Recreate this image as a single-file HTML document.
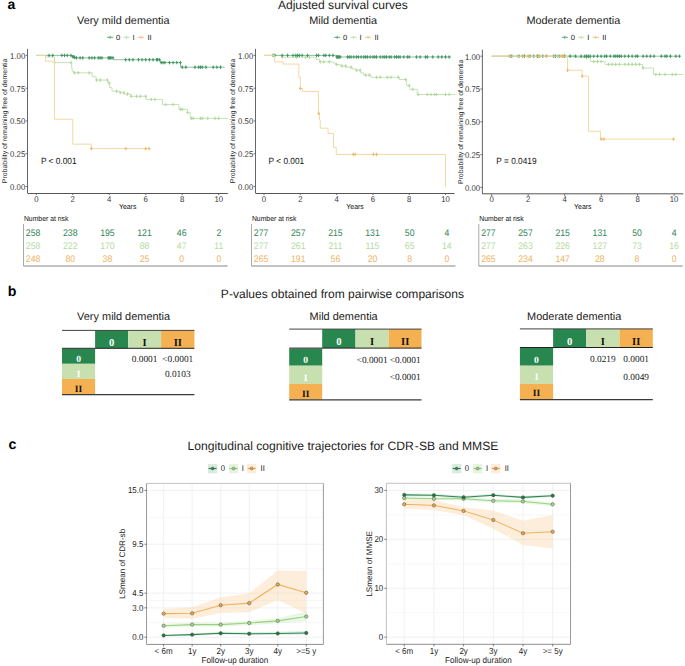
<!DOCTYPE html>
<html><head><meta charset="utf-8"><style>
html,body{margin:0;padding:0;background:#fff;width:685px;height:666px;overflow:hidden}
svg{display:block} text{text-rendering:geometricPrecision}

</style></head><body>
<svg width="685" height="666" viewBox="0 0 685 666">
<rect width="685" height="666" fill="#fff"/>
<text x="7.60" y="8.60" font-size="14.0" text-anchor="start" fill="#000" font-weight="bold" font-family="Liberation Sans" >a</text>
<text x="342.85" y="8.90" font-size="12.05" text-anchor="middle" fill="#222222" font-weight="normal" font-family="Liberation Sans" >Adjusted survival curves</text>
<text x="123.30" y="24.10" font-size="10.9" text-anchor="middle" fill="#222222" font-weight="normal" font-family="Liberation Sans" >Very mild dementia</text>
<line x1="107.00" y1="37.30" x2="113.20" y2="37.30" stroke="#3f9462" stroke-width="0.8" />
<line x1="110.10" y1="35.80" x2="110.10" y2="38.80" stroke="#3f9462" stroke-width="0.8" />
<text x="118.10" y="40.00" font-size="7.6" text-anchor="middle" fill="#222" font-weight="normal" font-family="Liberation Sans" >0</text>
<line x1="123.40" y1="37.30" x2="129.60" y2="37.30" stroke="#b3d99c" stroke-width="0.8" />
<line x1="126.50" y1="35.80" x2="126.50" y2="38.80" stroke="#b3d99c" stroke-width="0.8" />
<text x="133.60" y="40.00" font-size="7.6" text-anchor="middle" fill="#222" font-weight="normal" font-family="Liberation Sans" >I</text>
<line x1="137.90" y1="37.30" x2="144.10" y2="37.30" stroke="#ecb865" stroke-width="0.8" />
<line x1="141.00" y1="35.80" x2="141.00" y2="38.80" stroke="#ecb865" stroke-width="0.8" />
<text x="149.60" y="40.00" font-size="7.6" text-anchor="middle" fill="#222" font-weight="normal" font-family="Liberation Sans" >II</text>
<path d="M36.30,55.40 H45.42 V56.97 H54.54 V62.61 H71.69 V68.51 H72.23 V71.39 H73.33 V72.84 H92.30 V76.64 H96.13 V80.05 H107.98 V83.06 H109.62 V87.65 H112.00 V91.19 H119.66 V92.63 H124.22 V94.07 H130.97 V96.30 H145.92 V99.45 H162.52 V104.56 H178.94 V109.28 H187.33 V112.56 H190.25 V118.33 H227.82" fill="none" stroke="#c6e3b5" stroke-width="1.0"/>
<path d="M53.24,62.61h2.6M54.54,60.91v3.4" stroke="#b3d99c" stroke-width="1.0"/>
<path d="M69.66,62.61h2.6M70.96,60.91v3.4" stroke="#b3d99c" stroke-width="1.0"/>
<path d="M73.30,72.84h2.6M74.60,71.14v3.4" stroke="#b3d99c" stroke-width="1.0"/>
<path d="M76.95,72.84h2.6M78.25,71.14v3.4" stroke="#b3d99c" stroke-width="1.0"/>
<path d="M87.90,72.84h2.6M89.20,71.14v3.4" stroke="#b3d99c" stroke-width="1.0"/>
<path d="M95.19,80.05h2.6M96.49,78.35v3.4" stroke="#b3d99c" stroke-width="1.0"/>
<path d="M98.84,80.05h2.6M100.14,78.35v3.4" stroke="#b3d99c" stroke-width="1.0"/>
<path d="M106.14,80.05h2.6M107.44,78.35v3.4" stroke="#b3d99c" stroke-width="1.0"/>
<path d="M107.96,83.06h2.6M109.26,81.36v3.4" stroke="#b3d99c" stroke-width="1.0"/>
<path d="M115.26,91.19h2.6M116.56,89.49v3.4" stroke="#b3d99c" stroke-width="1.0"/>
<path d="M118.90,92.63h2.6M120.20,90.93v3.4" stroke="#b3d99c" stroke-width="1.0"/>
<path d="M122.55,92.63h2.6M123.85,90.93v3.4" stroke="#b3d99c" stroke-width="1.0"/>
<path d="M126.20,94.07h2.6M127.50,92.37v3.4" stroke="#b3d99c" stroke-width="1.0"/>
<path d="M129.85,96.30h2.6M131.15,94.60v3.4" stroke="#b3d99c" stroke-width="1.0"/>
<path d="M135.32,96.30h2.6M136.62,94.60v3.4" stroke="#b3d99c" stroke-width="1.0"/>
<path d="M138.97,96.30h2.6M140.27,94.60v3.4" stroke="#b3d99c" stroke-width="1.0"/>
<path d="M144.44,96.30h2.6M145.74,94.60v3.4" stroke="#b3d99c" stroke-width="1.0"/>
<path d="M149.91,99.45h2.6M151.21,97.75v3.4" stroke="#b3d99c" stroke-width="1.0"/>
<path d="M153.56,99.45h2.6M154.86,97.75v3.4" stroke="#b3d99c" stroke-width="1.0"/>
<path d="M164.50,104.56h2.6M165.80,102.86v3.4" stroke="#b3d99c" stroke-width="1.0"/>
<path d="M171.80,104.56h2.6M173.10,102.86v3.4" stroke="#b3d99c" stroke-width="1.0"/>
<path d="M179.10,109.28h2.6M180.40,107.58v3.4" stroke="#b3d99c" stroke-width="1.0"/>
<path d="M180.92,109.28h2.6M182.22,107.58v3.4" stroke="#b3d99c" stroke-width="1.0"/>
<path d="M186.39,112.56h2.6M187.69,110.86v3.4" stroke="#b3d99c" stroke-width="1.0"/>
<path d="M190.04,118.33h2.6M191.34,116.63v3.4" stroke="#b3d99c" stroke-width="1.0"/>
<path d="M191.86,118.33h2.6M193.16,116.63v3.4" stroke="#b3d99c" stroke-width="1.0"/>
<path d="M199.16,118.33h2.6M200.46,116.63v3.4" stroke="#b3d99c" stroke-width="1.0"/>
<path d="M200.98,118.33h2.6M202.28,116.63v3.4" stroke="#b3d99c" stroke-width="1.0"/>
<path d="M206.46,118.33h2.6M207.76,116.63v3.4" stroke="#b3d99c" stroke-width="1.0"/>
<path d="M213.75,118.33h2.6M215.05,116.63v3.4" stroke="#b3d99c" stroke-width="1.0"/>
<path d="M217.40,118.33h2.6M218.70,116.63v3.4" stroke="#b3d99c" stroke-width="1.0"/>
<path d="M36.30,55.40 H71.69 V56.06 H72.78 V56.71 H73.87 V57.37 H75.15 V57.89 H113.64 V59.73 H160.33 V62.61 H180.58 V67.20 H224.72" fill="none" stroke="#8fc3a0" stroke-width="1.0"/>
<path d="M47.77,55.40h2.6M49.07,53.70v3.4" stroke="#3f9462" stroke-width="1.0"/>
<path d="M51.42,55.40h2.6M52.72,53.70v3.4" stroke="#3f9462" stroke-width="1.0"/>
<path d="M60.54,55.40h2.6M61.84,53.70v3.4" stroke="#3f9462" stroke-width="1.0"/>
<path d="M63.27,55.40h2.6M64.57,53.70v3.4" stroke="#3f9462" stroke-width="1.0"/>
<path d="M66.01,55.40h2.6M67.31,53.70v3.4" stroke="#3f9462" stroke-width="1.0"/>
<path d="M69.66,55.40h2.6M70.96,53.70v3.4" stroke="#3f9462" stroke-width="1.0"/>
<path d="M71.48,56.71h2.6M72.78,55.01v3.4" stroke="#3f9462" stroke-width="1.0"/>
<path d="M72.39,56.71h2.6M73.69,55.01v3.4" stroke="#3f9462" stroke-width="1.0"/>
<path d="M73.30,57.37h2.6M74.60,55.67v3.4" stroke="#3f9462" stroke-width="1.0"/>
<path d="M75.13,57.89h2.6M76.43,56.19v3.4" stroke="#3f9462" stroke-width="1.0"/>
<path d="M78.78,57.89h2.6M80.08,56.19v3.4" stroke="#3f9462" stroke-width="1.0"/>
<path d="M81.51,57.89h2.6M82.81,56.19v3.4" stroke="#3f9462" stroke-width="1.0"/>
<path d="M87.90,57.89h2.6M89.20,56.19v3.4" stroke="#3f9462" stroke-width="1.0"/>
<path d="M90.63,57.89h2.6M91.93,56.19v3.4" stroke="#3f9462" stroke-width="1.0"/>
<path d="M93.37,57.89h2.6M94.67,56.19v3.4" stroke="#3f9462" stroke-width="1.0"/>
<path d="M97.02,57.89h2.6M98.32,56.19v3.4" stroke="#3f9462" stroke-width="1.0"/>
<path d="M98.84,57.89h2.6M100.14,56.19v3.4" stroke="#3f9462" stroke-width="1.0"/>
<path d="M100.66,57.89h2.6M101.96,56.19v3.4" stroke="#3f9462" stroke-width="1.0"/>
<path d="M107.05,57.89h2.6M108.35,56.19v3.4" stroke="#3f9462" stroke-width="1.0"/>
<path d="M107.96,57.89h2.6M109.26,56.19v3.4" stroke="#3f9462" stroke-width="1.0"/>
<path d="M108.87,57.89h2.6M110.17,56.19v3.4" stroke="#3f9462" stroke-width="1.0"/>
<path d="M109.78,57.89h2.6M111.08,56.19v3.4" stroke="#3f9462" stroke-width="1.0"/>
<path d="M111.61,57.89h2.6M112.91,56.19v3.4" stroke="#3f9462" stroke-width="1.0"/>
<path d="M124.38,59.73h2.6M125.68,58.03v3.4" stroke="#3f9462" stroke-width="1.0"/>
<path d="M128.02,59.73h2.6M129.32,58.03v3.4" stroke="#3f9462" stroke-width="1.0"/>
<path d="M131.67,59.73h2.6M132.97,58.03v3.4" stroke="#3f9462" stroke-width="1.0"/>
<path d="M137.14,59.73h2.6M138.44,58.03v3.4" stroke="#3f9462" stroke-width="1.0"/>
<path d="M140.79,59.73h2.6M142.09,58.03v3.4" stroke="#3f9462" stroke-width="1.0"/>
<path d="M144.44,59.73h2.6M145.74,58.03v3.4" stroke="#3f9462" stroke-width="1.0"/>
<path d="M148.09,59.73h2.6M149.39,58.03v3.4" stroke="#3f9462" stroke-width="1.0"/>
<path d="M151.74,59.73h2.6M153.04,58.03v3.4" stroke="#3f9462" stroke-width="1.0"/>
<path d="M155.38,59.73h2.6M156.68,58.03v3.4" stroke="#3f9462" stroke-width="1.0"/>
<path d="M156.30,59.73h2.6M157.60,58.03v3.4" stroke="#3f9462" stroke-width="1.0"/>
<path d="M158.12,59.73h2.6M159.42,58.03v3.4" stroke="#3f9462" stroke-width="1.0"/>
<path d="M159.94,62.61h2.6M161.24,60.91v3.4" stroke="#3f9462" stroke-width="1.0"/>
<path d="M161.77,62.61h2.6M163.07,60.91v3.4" stroke="#3f9462" stroke-width="1.0"/>
<path d="M163.59,62.61h2.6M164.89,60.91v3.4" stroke="#3f9462" stroke-width="1.0"/>
<path d="M168.15,62.61h2.6M169.45,60.91v3.4" stroke="#3f9462" stroke-width="1.0"/>
<path d="M171.80,62.61h2.6M173.10,60.91v3.4" stroke="#3f9462" stroke-width="1.0"/>
<path d="M175.45,62.61h2.6M176.75,60.91v3.4" stroke="#3f9462" stroke-width="1.0"/>
<path d="M179.10,62.61h2.6M180.40,60.91v3.4" stroke="#3f9462" stroke-width="1.0"/>
<path d="M180.92,67.20h2.6M182.22,65.50v3.4" stroke="#3f9462" stroke-width="1.0"/>
<path d="M184.57,67.20h2.6M185.87,65.50v3.4" stroke="#3f9462" stroke-width="1.0"/>
<path d="M193.69,67.20h2.6M194.99,65.50v3.4" stroke="#3f9462" stroke-width="1.0"/>
<path d="M197.34,67.20h2.6M198.64,65.50v3.4" stroke="#3f9462" stroke-width="1.0"/>
<path d="M199.16,67.20h2.6M200.46,65.50v3.4" stroke="#3f9462" stroke-width="1.0"/>
<path d="M200.98,67.20h2.6M202.28,65.50v3.4" stroke="#3f9462" stroke-width="1.0"/>
<path d="M204.63,67.20h2.6M205.93,65.50v3.4" stroke="#3f9462" stroke-width="1.0"/>
<path d="M211.93,67.20h2.6M213.23,65.50v3.4" stroke="#3f9462" stroke-width="1.0"/>
<path d="M215.58,67.20h2.6M216.88,65.50v3.4" stroke="#3f9462" stroke-width="1.0"/>
<path d="M219.22,67.20h2.6M220.52,65.50v3.4" stroke="#3f9462" stroke-width="1.0"/>
<path d="M36.30,55.40 H45.42 V61.17 H54.54 V119.25 H72.78 V144.15 H91.38 V148.61 H149.94" fill="none" stroke="#f2d9a4" stroke-width="1.0"/>
<path d="M90.08,148.61h2.6M91.38,146.91v3.4" stroke="#ecb865" stroke-width="1.0"/>
<path d="M124.56,148.61h2.6M125.86,146.91v3.4" stroke="#ecb865" stroke-width="1.0"/>
<path d="M144.44,148.61h2.6M145.74,146.91v3.4" stroke="#ecb865" stroke-width="1.0"/>
<path d="M147.91,148.61h2.6M149.21,146.91v3.4" stroke="#ecb865" stroke-width="1.0"/>
<line x1="27.50" y1="48.84" x2="27.50" y2="193.06" stroke="#555555" stroke-width="0.9" />
<line x1="27.50" y1="193.50" x2="227.82" y2="193.50" stroke="#555555" stroke-width="1.0" />
<line x1="25.50" y1="55.40" x2="27.50" y2="55.40" stroke="#555555" stroke-width="0.8" />
<text transform="translate(25.20 58.80) scale(1 1.08)" font-size="7.75" text-anchor="end" fill="#333" font-weight="normal" font-family="Liberation Sans" >1.00</text>
<line x1="25.50" y1="88.18" x2="27.50" y2="88.18" stroke="#555555" stroke-width="0.8" />
<text transform="translate(25.20 91.58) scale(1 1.08)" font-size="7.75" text-anchor="end" fill="#333" font-weight="normal" font-family="Liberation Sans" >0.75</text>
<line x1="25.50" y1="120.95" x2="27.50" y2="120.95" stroke="#555555" stroke-width="0.8" />
<text transform="translate(25.20 124.35) scale(1 1.08)" font-size="7.75" text-anchor="end" fill="#333" font-weight="normal" font-family="Liberation Sans" >0.50</text>
<line x1="25.50" y1="153.72" x2="27.50" y2="153.72" stroke="#555555" stroke-width="0.8" />
<text transform="translate(25.20 157.12) scale(1 1.08)" font-size="7.75" text-anchor="end" fill="#333" font-weight="normal" font-family="Liberation Sans" >0.25</text>
<line x1="25.50" y1="186.50" x2="27.50" y2="186.50" stroke="#555555" stroke-width="0.8" />
<text transform="translate(25.20 189.90) scale(1 1.08)" font-size="7.75" text-anchor="end" fill="#333" font-weight="normal" font-family="Liberation Sans" >0.00</text>
<line x1="36.30" y1="193.06" x2="36.30" y2="195.06" stroke="#555555" stroke-width="0.8" />
<text transform="translate(36.30 201.56) scale(1 1.08)" font-size="7.75" text-anchor="middle" fill="#333" font-weight="normal" font-family="Liberation Sans" >0</text>
<line x1="72.78" y1="193.06" x2="72.78" y2="195.06" stroke="#555555" stroke-width="0.8" />
<text transform="translate(72.78 201.56) scale(1 1.08)" font-size="7.75" text-anchor="middle" fill="#333" font-weight="normal" font-family="Liberation Sans" >2</text>
<line x1="109.26" y1="193.06" x2="109.26" y2="195.06" stroke="#555555" stroke-width="0.8" />
<text transform="translate(109.26 201.56) scale(1 1.08)" font-size="7.75" text-anchor="middle" fill="#333" font-weight="normal" font-family="Liberation Sans" >4</text>
<line x1="145.74" y1="193.06" x2="145.74" y2="195.06" stroke="#555555" stroke-width="0.8" />
<text transform="translate(145.74 201.56) scale(1 1.08)" font-size="7.75" text-anchor="middle" fill="#333" font-weight="normal" font-family="Liberation Sans" >6</text>
<line x1="182.22" y1="193.06" x2="182.22" y2="195.06" stroke="#555555" stroke-width="0.8" />
<text transform="translate(182.22 201.56) scale(1 1.08)" font-size="7.75" text-anchor="middle" fill="#333" font-weight="normal" font-family="Liberation Sans" >8</text>
<line x1="218.70" y1="193.06" x2="218.70" y2="195.06" stroke="#555555" stroke-width="0.8" />
<text transform="translate(218.70 201.56) scale(1 1.08)" font-size="7.75" text-anchor="middle" fill="#333" font-weight="normal" font-family="Liberation Sans" >10</text>
<text transform="translate(127.66 209.40) scale(1 1.08)" font-size="6.9" text-anchor="middle" fill="#111" font-weight="normal" font-family="Liberation Sans" >Years</text>
<text x="6.60" y="120.95" font-size="6.95" text-anchor="middle" fill="#222" font-weight="normal" font-family="Liberation Sans" transform="rotate(-90 6.60 120.95)">Probability of remaining free of dementia</text>
<text transform="translate(40.90 163.70) scale(1 1.08)" font-size="8.3" text-anchor="start" fill="#111" font-weight="normal" font-family="Liberation Sans" >P &lt; 0.001</text>
<text transform="translate(23.90 220.60) scale(1 1.08)" font-size="6.85" text-anchor="start" fill="#111" font-weight="normal" font-family="Liberation Sans" >Number at risk</text>
<line x1="23.50" y1="224.00" x2="23.50" y2="266.00" stroke="#a0a0a0" stroke-width="0.9" />
<line x1="23.50" y1="266.00" x2="227.50" y2="266.00" stroke="#777" stroke-width="0.9" />
<text transform="translate(33.10 235.70) scale(1 1.1)" font-size="8.7" text-anchor="middle" fill="#2f8655" font-weight="normal" font-family="Liberation Sans" >258</text>
<text transform="translate(70.24 235.70) scale(1 1.1)" font-size="8.7" text-anchor="middle" fill="#2f8655" font-weight="normal" font-family="Liberation Sans" >238</text>
<text transform="translate(107.38 235.70) scale(1 1.1)" font-size="8.7" text-anchor="middle" fill="#2f8655" font-weight="normal" font-family="Liberation Sans" >195</text>
<text transform="translate(144.52 235.70) scale(1 1.1)" font-size="8.7" text-anchor="middle" fill="#2f8655" font-weight="normal" font-family="Liberation Sans" >121</text>
<text transform="translate(181.66 235.70) scale(1 1.1)" font-size="8.7" text-anchor="middle" fill="#2f8655" font-weight="normal" font-family="Liberation Sans" >46</text>
<text transform="translate(218.80 235.70) scale(1 1.1)" font-size="8.7" text-anchor="middle" fill="#2f8655" font-weight="normal" font-family="Liberation Sans" >2</text>
<text transform="translate(33.10 248.90) scale(1 1.1)" font-size="8.7" text-anchor="middle" fill="#b5da9f" font-weight="normal" font-family="Liberation Sans" >258</text>
<text transform="translate(70.24 248.90) scale(1 1.1)" font-size="8.7" text-anchor="middle" fill="#b5da9f" font-weight="normal" font-family="Liberation Sans" >222</text>
<text transform="translate(107.38 248.90) scale(1 1.1)" font-size="8.7" text-anchor="middle" fill="#b5da9f" font-weight="normal" font-family="Liberation Sans" >170</text>
<text transform="translate(144.52 248.90) scale(1 1.1)" font-size="8.7" text-anchor="middle" fill="#b5da9f" font-weight="normal" font-family="Liberation Sans" >88</text>
<text transform="translate(181.66 248.90) scale(1 1.1)" font-size="8.7" text-anchor="middle" fill="#b5da9f" font-weight="normal" font-family="Liberation Sans" >47</text>
<text transform="translate(218.80 248.90) scale(1 1.1)" font-size="8.7" text-anchor="middle" fill="#b5da9f" font-weight="normal" font-family="Liberation Sans" >11</text>
<text transform="translate(33.10 262.10) scale(1 1.1)" font-size="8.7" text-anchor="middle" fill="#efb362" font-weight="normal" font-family="Liberation Sans" >248</text>
<text transform="translate(70.24 262.10) scale(1 1.1)" font-size="8.7" text-anchor="middle" fill="#efb362" font-weight="normal" font-family="Liberation Sans" >80</text>
<text transform="translate(107.38 262.10) scale(1 1.1)" font-size="8.7" text-anchor="middle" fill="#efb362" font-weight="normal" font-family="Liberation Sans" >38</text>
<text transform="translate(144.52 262.10) scale(1 1.1)" font-size="8.7" text-anchor="middle" fill="#efb362" font-weight="normal" font-family="Liberation Sans" >25</text>
<text transform="translate(181.66 262.10) scale(1 1.1)" font-size="8.7" text-anchor="middle" fill="#efb362" font-weight="normal" font-family="Liberation Sans" >0</text>
<text transform="translate(218.80 262.10) scale(1 1.1)" font-size="8.7" text-anchor="middle" fill="#efb362" font-weight="normal" font-family="Liberation Sans" >0</text>
<text x="343.10" y="24.10" font-size="10.9" text-anchor="middle" fill="#222222" font-weight="normal" font-family="Liberation Sans" >Mild dementia</text>
<line x1="334.00" y1="37.30" x2="340.20" y2="37.30" stroke="#3f9462" stroke-width="0.8" />
<line x1="337.10" y1="35.80" x2="337.10" y2="38.80" stroke="#3f9462" stroke-width="0.8" />
<text x="345.10" y="40.00" font-size="7.6" text-anchor="middle" fill="#222" font-weight="normal" font-family="Liberation Sans" >0</text>
<line x1="350.40" y1="37.30" x2="356.60" y2="37.30" stroke="#b3d99c" stroke-width="0.8" />
<line x1="353.50" y1="35.80" x2="353.50" y2="38.80" stroke="#b3d99c" stroke-width="0.8" />
<text x="360.60" y="40.00" font-size="7.6" text-anchor="middle" fill="#222" font-weight="normal" font-family="Liberation Sans" >I</text>
<line x1="364.90" y1="37.30" x2="371.10" y2="37.30" stroke="#ecb865" stroke-width="0.8" />
<line x1="368.00" y1="35.80" x2="368.00" y2="38.80" stroke="#ecb865" stroke-width="0.8" />
<text x="376.60" y="40.00" font-size="7.6" text-anchor="middle" fill="#222" font-weight="normal" font-family="Liberation Sans" >II</text>
<path d="M264.00,55.40 H281.97 V57.24 H316.27 V59.46 H319.36 V61.82 H332.79 V63.00 H335.69 V64.45 H340.23 V66.02 H346.22 V67.20 H352.21 V69.03 H356.02 V70.21 H360.38 V72.84 H363.46 V75.07 H370.90 V77.29 H399.22 V79.52 H406.66 V85.55 H409.74 V89.35 H417.19 V94.47 H455.30" fill="none" stroke="#c6e3b5" stroke-width="1.0"/>
<path d="M280.85,57.24h2.6M282.15,55.54v3.4" stroke="#b3d99c" stroke-width="1.0"/>
<path d="M295.37,57.24h2.6M296.67,55.54v3.4" stroke="#b3d99c" stroke-width="1.0"/>
<path d="M304.44,57.24h2.6M305.75,55.54v3.4" stroke="#b3d99c" stroke-width="1.0"/>
<path d="M308.07,57.24h2.6M309.38,55.54v3.4" stroke="#b3d99c" stroke-width="1.0"/>
<path d="M318.96,61.82h2.6M320.26,60.12v3.4" stroke="#b3d99c" stroke-width="1.0"/>
<path d="M322.59,61.82h2.6M323.89,60.12v3.4" stroke="#b3d99c" stroke-width="1.0"/>
<path d="M328.04,61.82h2.6M329.34,60.12v3.4" stroke="#b3d99c" stroke-width="1.0"/>
<path d="M335.30,64.45h2.6M336.60,62.75v3.4" stroke="#b3d99c" stroke-width="1.0"/>
<path d="M340.74,66.02h2.6M342.04,64.32v3.4" stroke="#b3d99c" stroke-width="1.0"/>
<path d="M344.38,66.02h2.6M345.68,64.32v3.4" stroke="#b3d99c" stroke-width="1.0"/>
<path d="M349.82,67.20h2.6M351.12,65.50v3.4" stroke="#b3d99c" stroke-width="1.0"/>
<path d="M355.26,70.21h2.6M356.56,68.51v3.4" stroke="#b3d99c" stroke-width="1.0"/>
<path d="M358.89,70.21h2.6M360.19,68.51v3.4" stroke="#b3d99c" stroke-width="1.0"/>
<path d="M364.34,75.07h2.6M365.64,73.37v3.4" stroke="#b3d99c" stroke-width="1.0"/>
<path d="M367.97,75.07h2.6M369.27,73.37v3.4" stroke="#b3d99c" stroke-width="1.0"/>
<path d="M375.23,77.29h2.6M376.53,75.59v3.4" stroke="#b3d99c" stroke-width="1.0"/>
<path d="M378.86,77.29h2.6M380.16,75.59v3.4" stroke="#b3d99c" stroke-width="1.0"/>
<path d="M386.12,77.29h2.6M387.42,75.59v3.4" stroke="#b3d99c" stroke-width="1.0"/>
<path d="M389.75,77.29h2.6M391.05,75.59v3.4" stroke="#b3d99c" stroke-width="1.0"/>
<path d="M397.01,77.29h2.6M398.31,75.59v3.4" stroke="#b3d99c" stroke-width="1.0"/>
<path d="M404.27,79.52h2.6M405.57,77.82v3.4" stroke="#b3d99c" stroke-width="1.0"/>
<path d="M407.90,85.55h2.6M409.20,83.85v3.4" stroke="#b3d99c" stroke-width="1.0"/>
<path d="M411.53,89.35h2.6M412.83,87.65v3.4" stroke="#b3d99c" stroke-width="1.0"/>
<path d="M416.97,94.47h2.6M418.27,92.77v3.4" stroke="#b3d99c" stroke-width="1.0"/>
<path d="M426.05,94.47h2.6M427.35,92.77v3.4" stroke="#b3d99c" stroke-width="1.0"/>
<path d="M429.68,94.47h2.6M430.98,92.77v3.4" stroke="#b3d99c" stroke-width="1.0"/>
<path d="M433.31,94.47h2.6M434.61,92.77v3.4" stroke="#b3d99c" stroke-width="1.0"/>
<path d="M435.12,94.47h2.6M436.42,92.77v3.4" stroke="#b3d99c" stroke-width="1.0"/>
<path d="M444.20,94.47h2.6M445.50,92.77v3.4" stroke="#b3d99c" stroke-width="1.0"/>
<path d="M447.83,94.47h2.6M449.13,92.77v3.4" stroke="#b3d99c" stroke-width="1.0"/>
<path d="M264.00,55.40 H336.42 V56.97 H450.94" fill="none" stroke="#8fc3a0" stroke-width="1.0"/>
<path d="M271.77,55.40h2.6M273.07,53.70v3.4" stroke="#3f9462" stroke-width="1.0"/>
<path d="M273.59,55.40h2.6M274.89,53.70v3.4" stroke="#3f9462" stroke-width="1.0"/>
<path d="M280.85,55.40h2.6M282.15,53.70v3.4" stroke="#3f9462" stroke-width="1.0"/>
<path d="M286.30,55.40h2.6M287.60,53.70v3.4" stroke="#3f9462" stroke-width="1.0"/>
<path d="M291.74,55.40h2.6M293.04,53.70v3.4" stroke="#3f9462" stroke-width="1.0"/>
<path d="M294.46,55.40h2.6M295.76,53.70v3.4" stroke="#3f9462" stroke-width="1.0"/>
<path d="M296.28,55.40h2.6M297.58,53.70v3.4" stroke="#3f9462" stroke-width="1.0"/>
<path d="M298.09,55.40h2.6M299.39,53.70v3.4" stroke="#3f9462" stroke-width="1.0"/>
<path d="M300.81,55.40h2.6M302.12,53.70v3.4" stroke="#3f9462" stroke-width="1.0"/>
<path d="M306.26,55.40h2.6M307.56,53.70v3.4" stroke="#3f9462" stroke-width="1.0"/>
<path d="M315.33,55.40h2.6M316.63,53.70v3.4" stroke="#3f9462" stroke-width="1.0"/>
<path d="M317.15,55.40h2.6M318.45,53.70v3.4" stroke="#3f9462" stroke-width="1.0"/>
<path d="M322.59,55.40h2.6M323.89,53.70v3.4" stroke="#3f9462" stroke-width="1.0"/>
<path d="M324.41,55.40h2.6M325.71,53.70v3.4" stroke="#3f9462" stroke-width="1.0"/>
<path d="M328.04,55.40h2.6M329.34,53.70v3.4" stroke="#3f9462" stroke-width="1.0"/>
<path d="M331.67,55.40h2.6M332.97,53.70v3.4" stroke="#3f9462" stroke-width="1.0"/>
<path d="M335.30,56.97h2.6M336.60,55.27v3.4" stroke="#3f9462" stroke-width="1.0"/>
<path d="M336.21,56.97h2.6M337.51,55.27v3.4" stroke="#3f9462" stroke-width="1.0"/>
<path d="M337.11,56.97h2.6M338.41,55.27v3.4" stroke="#3f9462" stroke-width="1.0"/>
<path d="M338.02,56.97h2.6M339.32,55.27v3.4" stroke="#3f9462" stroke-width="1.0"/>
<path d="M338.93,56.97h2.6M340.23,55.27v3.4" stroke="#3f9462" stroke-width="1.0"/>
<path d="M346.19,56.97h2.6M347.49,55.27v3.4" stroke="#3f9462" stroke-width="1.0"/>
<path d="M348.00,56.97h2.6M349.31,55.27v3.4" stroke="#3f9462" stroke-width="1.0"/>
<path d="M349.82,56.97h2.6M351.12,55.27v3.4" stroke="#3f9462" stroke-width="1.0"/>
<path d="M352.54,56.97h2.6M353.84,55.27v3.4" stroke="#3f9462" stroke-width="1.0"/>
<path d="M355.26,56.97h2.6M356.56,55.27v3.4" stroke="#3f9462" stroke-width="1.0"/>
<path d="M357.08,56.97h2.6M358.38,55.27v3.4" stroke="#3f9462" stroke-width="1.0"/>
<path d="M359.80,56.97h2.6M361.10,55.27v3.4" stroke="#3f9462" stroke-width="1.0"/>
<path d="M362.52,56.97h2.6M363.82,55.27v3.4" stroke="#3f9462" stroke-width="1.0"/>
<path d="M364.34,56.97h2.6M365.64,55.27v3.4" stroke="#3f9462" stroke-width="1.0"/>
<path d="M366.15,56.97h2.6M367.45,55.27v3.4" stroke="#3f9462" stroke-width="1.0"/>
<path d="M368.88,56.97h2.6M370.18,55.27v3.4" stroke="#3f9462" stroke-width="1.0"/>
<path d="M371.60,56.97h2.6M372.90,55.27v3.4" stroke="#3f9462" stroke-width="1.0"/>
<path d="M373.41,56.97h2.6M374.71,55.27v3.4" stroke="#3f9462" stroke-width="1.0"/>
<path d="M375.23,56.97h2.6M376.53,55.27v3.4" stroke="#3f9462" stroke-width="1.0"/>
<path d="M378.86,56.97h2.6M380.16,55.27v3.4" stroke="#3f9462" stroke-width="1.0"/>
<path d="M381.58,56.97h2.6M382.88,55.27v3.4" stroke="#3f9462" stroke-width="1.0"/>
<path d="M383.40,56.97h2.6M384.70,55.27v3.4" stroke="#3f9462" stroke-width="1.0"/>
<path d="M385.21,56.97h2.6M386.51,55.27v3.4" stroke="#3f9462" stroke-width="1.0"/>
<path d="M387.94,56.97h2.6M389.24,55.27v3.4" stroke="#3f9462" stroke-width="1.0"/>
<path d="M389.75,56.97h2.6M391.05,55.27v3.4" stroke="#3f9462" stroke-width="1.0"/>
<path d="M393.38,56.97h2.6M394.68,55.27v3.4" stroke="#3f9462" stroke-width="1.0"/>
<path d="M395.19,56.97h2.6M396.50,55.27v3.4" stroke="#3f9462" stroke-width="1.0"/>
<path d="M397.01,56.97h2.6M398.31,55.27v3.4" stroke="#3f9462" stroke-width="1.0"/>
<path d="M398.82,56.97h2.6M400.12,55.27v3.4" stroke="#3f9462" stroke-width="1.0"/>
<path d="M402.45,56.97h2.6M403.75,55.27v3.4" stroke="#3f9462" stroke-width="1.0"/>
<path d="M406.08,56.97h2.6M407.38,55.27v3.4" stroke="#3f9462" stroke-width="1.0"/>
<path d="M407.90,56.97h2.6M409.20,55.27v3.4" stroke="#3f9462" stroke-width="1.0"/>
<path d="M415.16,56.97h2.6M416.46,55.27v3.4" stroke="#3f9462" stroke-width="1.0"/>
<path d="M418.79,56.97h2.6M420.09,55.27v3.4" stroke="#3f9462" stroke-width="1.0"/>
<path d="M424.23,56.97h2.6M425.53,55.27v3.4" stroke="#3f9462" stroke-width="1.0"/>
<path d="M426.05,56.97h2.6M427.35,55.27v3.4" stroke="#3f9462" stroke-width="1.0"/>
<path d="M431.49,56.97h2.6M432.79,55.27v3.4" stroke="#3f9462" stroke-width="1.0"/>
<path d="M436.94,56.97h2.6M438.24,55.27v3.4" stroke="#3f9462" stroke-width="1.0"/>
<path d="M440.57,56.97h2.6M441.87,55.27v3.4" stroke="#3f9462" stroke-width="1.0"/>
<path d="M444.20,56.97h2.6M445.50,55.27v3.4" stroke="#3f9462" stroke-width="1.0"/>
<path d="M447.83,56.97h2.6M449.13,55.27v3.4" stroke="#3f9462" stroke-width="1.0"/>
<path d="M264.00,55.40 H274.71 V61.82 H283.06 V64.05 H298.85 V77.29 H300.30 V88.44 H302.48 V91.45 H318.45 V113.35 H319.36 V120.03 H320.26 V128.16 H328.07 V133.40 H333.51 V147.43 H336.24 V154.38 H445.50 V186.50 H445.50" fill="none" stroke="#f2d9a4" stroke-width="1.0"/>
<path d="M299.00,88.44h2.6M300.30,86.74v3.4" stroke="#ecb865" stroke-width="1.0"/>
<path d="M317.51,113.35h2.6M318.81,111.65v3.4" stroke="#ecb865" stroke-width="1.0"/>
<path d="M352.00,154.38h2.6M353.30,152.68v3.4" stroke="#ecb865" stroke-width="1.0"/>
<path d="M353.81,154.38h2.6M355.11,152.68v3.4" stroke="#ecb865" stroke-width="1.0"/>
<path d="M372.14,154.38h2.6M373.44,152.68v3.4" stroke="#ecb865" stroke-width="1.0"/>
<path d="M375.23,154.38h2.6M376.53,152.68v3.4" stroke="#ecb865" stroke-width="1.0"/>
<line x1="255.50" y1="48.84" x2="255.50" y2="193.06" stroke="#555555" stroke-width="0.9" />
<line x1="255.50" y1="193.50" x2="454.57" y2="193.50" stroke="#555555" stroke-width="1.0" />
<line x1="253.50" y1="55.40" x2="255.50" y2="55.40" stroke="#555555" stroke-width="0.8" />
<text transform="translate(253.20 58.80) scale(1 1.08)" font-size="7.75" text-anchor="end" fill="#333" font-weight="normal" font-family="Liberation Sans" >1.00</text>
<line x1="253.50" y1="88.18" x2="255.50" y2="88.18" stroke="#555555" stroke-width="0.8" />
<text transform="translate(253.20 91.58) scale(1 1.08)" font-size="7.75" text-anchor="end" fill="#333" font-weight="normal" font-family="Liberation Sans" >0.75</text>
<line x1="253.50" y1="120.95" x2="255.50" y2="120.95" stroke="#555555" stroke-width="0.8" />
<text transform="translate(253.20 124.35) scale(1 1.08)" font-size="7.75" text-anchor="end" fill="#333" font-weight="normal" font-family="Liberation Sans" >0.50</text>
<line x1="253.50" y1="153.72" x2="255.50" y2="153.72" stroke="#555555" stroke-width="0.8" />
<text transform="translate(253.20 157.12) scale(1 1.08)" font-size="7.75" text-anchor="end" fill="#333" font-weight="normal" font-family="Liberation Sans" >0.25</text>
<line x1="253.50" y1="186.50" x2="255.50" y2="186.50" stroke="#555555" stroke-width="0.8" />
<text transform="translate(253.20 189.90) scale(1 1.08)" font-size="7.75" text-anchor="end" fill="#333" font-weight="normal" font-family="Liberation Sans" >0.00</text>
<line x1="264.00" y1="193.06" x2="264.00" y2="195.06" stroke="#555555" stroke-width="0.8" />
<text transform="translate(264.00 201.56) scale(1 1.08)" font-size="7.75" text-anchor="middle" fill="#333" font-weight="normal" font-family="Liberation Sans" >0</text>
<line x1="300.30" y1="193.06" x2="300.30" y2="195.06" stroke="#555555" stroke-width="0.8" />
<text transform="translate(300.30 201.56) scale(1 1.08)" font-size="7.75" text-anchor="middle" fill="#333" font-weight="normal" font-family="Liberation Sans" >2</text>
<line x1="336.60" y1="193.06" x2="336.60" y2="195.06" stroke="#555555" stroke-width="0.8" />
<text transform="translate(336.60 201.56) scale(1 1.08)" font-size="7.75" text-anchor="middle" fill="#333" font-weight="normal" font-family="Liberation Sans" >4</text>
<line x1="372.90" y1="193.06" x2="372.90" y2="195.06" stroke="#555555" stroke-width="0.8" />
<text transform="translate(372.90 201.56) scale(1 1.08)" font-size="7.75" text-anchor="middle" fill="#333" font-weight="normal" font-family="Liberation Sans" >6</text>
<line x1="409.20" y1="193.06" x2="409.20" y2="195.06" stroke="#555555" stroke-width="0.8" />
<text transform="translate(409.20 201.56) scale(1 1.08)" font-size="7.75" text-anchor="middle" fill="#333" font-weight="normal" font-family="Liberation Sans" >8</text>
<line x1="445.50" y1="193.06" x2="445.50" y2="195.06" stroke="#555555" stroke-width="0.8" />
<text transform="translate(445.50 201.56) scale(1 1.08)" font-size="7.75" text-anchor="middle" fill="#333" font-weight="normal" font-family="Liberation Sans" >10</text>
<text transform="translate(355.04 209.40) scale(1 1.08)" font-size="6.9" text-anchor="middle" fill="#111" font-weight="normal" font-family="Liberation Sans" >Years</text>
<text x="235.20" y="120.95" font-size="6.95" text-anchor="middle" fill="#222" font-weight="normal" font-family="Liberation Sans" transform="rotate(-90 235.20 120.95)">Probability of remaining free of dementia</text>
<text transform="translate(268.60 163.70) scale(1 1.08)" font-size="8.3" text-anchor="start" fill="#111" font-weight="normal" font-family="Liberation Sans" >P &lt; 0.001</text>
<text transform="translate(251.90 220.60) scale(1 1.08)" font-size="6.85" text-anchor="start" fill="#111" font-weight="normal" font-family="Liberation Sans" >Number at risk</text>
<line x1="251.50" y1="224.00" x2="251.50" y2="266.00" stroke="#a0a0a0" stroke-width="0.9" />
<line x1="251.50" y1="266.00" x2="455.50" y2="266.00" stroke="#777" stroke-width="0.9" />
<text transform="translate(261.10 235.70) scale(1 1.1)" font-size="8.7" text-anchor="middle" fill="#2f8655" font-weight="normal" font-family="Liberation Sans" >277</text>
<text transform="translate(298.24 235.70) scale(1 1.1)" font-size="8.7" text-anchor="middle" fill="#2f8655" font-weight="normal" font-family="Liberation Sans" >257</text>
<text transform="translate(335.38 235.70) scale(1 1.1)" font-size="8.7" text-anchor="middle" fill="#2f8655" font-weight="normal" font-family="Liberation Sans" >215</text>
<text transform="translate(372.52 235.70) scale(1 1.1)" font-size="8.7" text-anchor="middle" fill="#2f8655" font-weight="normal" font-family="Liberation Sans" >131</text>
<text transform="translate(409.66 235.70) scale(1 1.1)" font-size="8.7" text-anchor="middle" fill="#2f8655" font-weight="normal" font-family="Liberation Sans" >50</text>
<text transform="translate(446.80 235.70) scale(1 1.1)" font-size="8.7" text-anchor="middle" fill="#2f8655" font-weight="normal" font-family="Liberation Sans" >4</text>
<text transform="translate(261.10 248.90) scale(1 1.1)" font-size="8.7" text-anchor="middle" fill="#b5da9f" font-weight="normal" font-family="Liberation Sans" >277</text>
<text transform="translate(298.24 248.90) scale(1 1.1)" font-size="8.7" text-anchor="middle" fill="#b5da9f" font-weight="normal" font-family="Liberation Sans" >261</text>
<text transform="translate(335.38 248.90) scale(1 1.1)" font-size="8.7" text-anchor="middle" fill="#b5da9f" font-weight="normal" font-family="Liberation Sans" >211</text>
<text transform="translate(372.52 248.90) scale(1 1.1)" font-size="8.7" text-anchor="middle" fill="#b5da9f" font-weight="normal" font-family="Liberation Sans" >115</text>
<text transform="translate(409.66 248.90) scale(1 1.1)" font-size="8.7" text-anchor="middle" fill="#b5da9f" font-weight="normal" font-family="Liberation Sans" >65</text>
<text transform="translate(446.80 248.90) scale(1 1.1)" font-size="8.7" text-anchor="middle" fill="#b5da9f" font-weight="normal" font-family="Liberation Sans" >14</text>
<text transform="translate(261.10 262.10) scale(1 1.1)" font-size="8.7" text-anchor="middle" fill="#efb362" font-weight="normal" font-family="Liberation Sans" >265</text>
<text transform="translate(298.24 262.10) scale(1 1.1)" font-size="8.7" text-anchor="middle" fill="#efb362" font-weight="normal" font-family="Liberation Sans" >191</text>
<text transform="translate(335.38 262.10) scale(1 1.1)" font-size="8.7" text-anchor="middle" fill="#efb362" font-weight="normal" font-family="Liberation Sans" >56</text>
<text transform="translate(372.52 262.10) scale(1 1.1)" font-size="8.7" text-anchor="middle" fill="#efb362" font-weight="normal" font-family="Liberation Sans" >20</text>
<text transform="translate(409.66 262.10) scale(1 1.1)" font-size="8.7" text-anchor="middle" fill="#efb362" font-weight="normal" font-family="Liberation Sans" >8</text>
<text transform="translate(446.80 262.10) scale(1 1.1)" font-size="8.7" text-anchor="middle" fill="#efb362" font-weight="normal" font-family="Liberation Sans" >0</text>
<text x="573.30" y="24.10" font-size="10.9" text-anchor="middle" fill="#222222" font-weight="normal" font-family="Liberation Sans" >Moderate dementia</text>
<line x1="561.70" y1="37.30" x2="567.90" y2="37.30" stroke="#3f9462" stroke-width="0.8" />
<line x1="564.80" y1="35.80" x2="564.80" y2="38.80" stroke="#3f9462" stroke-width="0.8" />
<text x="572.80" y="40.00" font-size="7.6" text-anchor="middle" fill="#222" font-weight="normal" font-family="Liberation Sans" >0</text>
<line x1="578.10" y1="37.30" x2="584.30" y2="37.30" stroke="#b3d99c" stroke-width="0.8" />
<line x1="581.20" y1="35.80" x2="581.20" y2="38.80" stroke="#b3d99c" stroke-width="0.8" />
<text x="588.30" y="40.00" font-size="7.6" text-anchor="middle" fill="#222" font-weight="normal" font-family="Liberation Sans" >I</text>
<line x1="592.60" y1="37.30" x2="598.80" y2="37.30" stroke="#ecb865" stroke-width="0.8" />
<line x1="595.70" y1="35.80" x2="595.70" y2="38.80" stroke="#ecb865" stroke-width="0.8" />
<text x="604.30" y="40.00" font-size="7.6" text-anchor="middle" fill="#222" font-weight="normal" font-family="Liberation Sans" >II</text>
<path d="M491.70,56.20 H575.79 V57.51 H590.38 V61.58 H604.97 V64.33 H642.54 V68.01 H653.49 V74.44 H683.22" fill="none" stroke="#c6e3b5" stroke-width="1.0"/>
<path d="M515.94,56.20h2.6M517.24,54.50v3.4" stroke="#b3d99c" stroke-width="1.0"/>
<path d="M526.88,56.20h2.6M528.18,54.50v3.4" stroke="#b3d99c" stroke-width="1.0"/>
<path d="M536.00,56.20h2.6M537.30,54.50v3.4" stroke="#b3d99c" stroke-width="1.0"/>
<path d="M545.12,56.20h2.6M546.42,54.50v3.4" stroke="#b3d99c" stroke-width="1.0"/>
<path d="M556.06,56.20h2.6M557.36,54.50v3.4" stroke="#b3d99c" stroke-width="1.0"/>
<path d="M563.36,56.20h2.6M564.66,54.50v3.4" stroke="#b3d99c" stroke-width="1.0"/>
<path d="M568.83,56.20h2.6M570.13,54.50v3.4" stroke="#b3d99c" stroke-width="1.0"/>
<path d="M572.48,56.20h2.6M573.78,54.50v3.4" stroke="#b3d99c" stroke-width="1.0"/>
<path d="M585.25,57.51h2.6M586.55,55.81v3.4" stroke="#b3d99c" stroke-width="1.0"/>
<path d="M592.54,61.58h2.6M593.84,59.88v3.4" stroke="#b3d99c" stroke-width="1.0"/>
<path d="M596.19,61.58h2.6M597.49,59.88v3.4" stroke="#b3d99c" stroke-width="1.0"/>
<path d="M599.84,61.58h2.6M601.14,59.88v3.4" stroke="#b3d99c" stroke-width="1.0"/>
<path d="M607.14,64.33h2.6M608.44,62.63v3.4" stroke="#b3d99c" stroke-width="1.0"/>
<path d="M610.78,64.33h2.6M612.08,62.63v3.4" stroke="#b3d99c" stroke-width="1.0"/>
<path d="M614.43,64.33h2.6M615.73,62.63v3.4" stroke="#b3d99c" stroke-width="1.0"/>
<path d="M618.08,64.33h2.6M619.38,62.63v3.4" stroke="#b3d99c" stroke-width="1.0"/>
<path d="M623.55,64.33h2.6M624.85,62.63v3.4" stroke="#b3d99c" stroke-width="1.0"/>
<path d="M627.20,64.33h2.6M628.50,62.63v3.4" stroke="#b3d99c" stroke-width="1.0"/>
<path d="M630.85,64.33h2.6M632.15,62.63v3.4" stroke="#b3d99c" stroke-width="1.0"/>
<path d="M634.50,64.33h2.6M635.80,62.63v3.4" stroke="#b3d99c" stroke-width="1.0"/>
<path d="M638.14,64.33h2.6M639.44,62.63v3.4" stroke="#b3d99c" stroke-width="1.0"/>
<path d="M641.79,68.01h2.6M643.09,66.31v3.4" stroke="#b3d99c" stroke-width="1.0"/>
<path d="M654.56,74.44h2.6M655.86,72.74v3.4" stroke="#b3d99c" stroke-width="1.0"/>
<path d="M658.21,74.44h2.6M659.51,72.74v3.4" stroke="#b3d99c" stroke-width="1.0"/>
<path d="M663.68,74.44h2.6M664.98,72.74v3.4" stroke="#b3d99c" stroke-width="1.0"/>
<path d="M670.98,74.44h2.6M672.28,72.74v3.4" stroke="#b3d99c" stroke-width="1.0"/>
<path d="M674.62,74.44h2.6M675.92,72.74v3.4" stroke="#b3d99c" stroke-width="1.0"/>
<path d="M491.70,56.20 H679.57" fill="none" stroke="#8fc3a0" stroke-width="1.0"/>
<path d="M508.64,56.20h2.6M509.94,54.50v3.4" stroke="#3f9462" stroke-width="1.0"/>
<path d="M510.46,56.20h2.6M511.76,54.50v3.4" stroke="#3f9462" stroke-width="1.0"/>
<path d="M517.76,56.20h2.6M519.06,54.50v3.4" stroke="#3f9462" stroke-width="1.0"/>
<path d="M521.41,56.20h2.6M522.71,54.50v3.4" stroke="#3f9462" stroke-width="1.0"/>
<path d="M523.23,56.20h2.6M524.53,54.50v3.4" stroke="#3f9462" stroke-width="1.0"/>
<path d="M528.70,56.20h2.6M530.00,54.50v3.4" stroke="#3f9462" stroke-width="1.0"/>
<path d="M532.35,56.20h2.6M533.65,54.50v3.4" stroke="#3f9462" stroke-width="1.0"/>
<path d="M536.00,56.20h2.6M537.30,54.50v3.4" stroke="#3f9462" stroke-width="1.0"/>
<path d="M537.82,56.20h2.6M539.12,54.50v3.4" stroke="#3f9462" stroke-width="1.0"/>
<path d="M541.47,56.20h2.6M542.77,54.50v3.4" stroke="#3f9462" stroke-width="1.0"/>
<path d="M545.12,56.20h2.6M546.42,54.50v3.4" stroke="#3f9462" stroke-width="1.0"/>
<path d="M552.42,56.20h2.6M553.72,54.50v3.4" stroke="#3f9462" stroke-width="1.0"/>
<path d="M554.24,56.20h2.6M555.54,54.50v3.4" stroke="#3f9462" stroke-width="1.0"/>
<path d="M557.89,56.20h2.6M559.19,54.50v3.4" stroke="#3f9462" stroke-width="1.0"/>
<path d="M561.54,56.20h2.6M562.84,54.50v3.4" stroke="#3f9462" stroke-width="1.0"/>
<path d="M563.36,56.20h2.6M564.66,54.50v3.4" stroke="#3f9462" stroke-width="1.0"/>
<path d="M568.83,56.20h2.6M570.13,54.50v3.4" stroke="#3f9462" stroke-width="1.0"/>
<path d="M574.30,56.20h2.6M575.60,54.50v3.4" stroke="#3f9462" stroke-width="1.0"/>
<path d="M579.78,56.20h2.6M581.08,54.50v3.4" stroke="#3f9462" stroke-width="1.0"/>
<path d="M583.42,56.20h2.6M584.72,54.50v3.4" stroke="#3f9462" stroke-width="1.0"/>
<path d="M585.25,56.20h2.6M586.55,54.50v3.4" stroke="#3f9462" stroke-width="1.0"/>
<path d="M587.07,56.20h2.6M588.37,54.50v3.4" stroke="#3f9462" stroke-width="1.0"/>
<path d="M588.90,56.20h2.6M590.20,54.50v3.4" stroke="#3f9462" stroke-width="1.0"/>
<path d="M592.54,56.20h2.6M593.84,54.50v3.4" stroke="#3f9462" stroke-width="1.0"/>
<path d="M596.19,56.20h2.6M597.49,54.50v3.4" stroke="#3f9462" stroke-width="1.0"/>
<path d="M599.84,56.20h2.6M601.14,54.50v3.4" stroke="#3f9462" stroke-width="1.0"/>
<path d="M603.49,56.20h2.6M604.79,54.50v3.4" stroke="#3f9462" stroke-width="1.0"/>
<path d="M605.31,56.20h2.6M606.61,54.50v3.4" stroke="#3f9462" stroke-width="1.0"/>
<path d="M608.96,56.20h2.6M610.26,54.50v3.4" stroke="#3f9462" stroke-width="1.0"/>
<path d="M612.61,56.20h2.6M613.91,54.50v3.4" stroke="#3f9462" stroke-width="1.0"/>
<path d="M614.43,56.20h2.6M615.73,54.50v3.4" stroke="#3f9462" stroke-width="1.0"/>
<path d="M616.26,56.20h2.6M617.56,54.50v3.4" stroke="#3f9462" stroke-width="1.0"/>
<path d="M618.08,56.20h2.6M619.38,54.50v3.4" stroke="#3f9462" stroke-width="1.0"/>
<path d="M619.90,56.20h2.6M621.20,54.50v3.4" stroke="#3f9462" stroke-width="1.0"/>
<path d="M623.55,56.20h2.6M624.85,54.50v3.4" stroke="#3f9462" stroke-width="1.0"/>
<path d="M627.20,56.20h2.6M628.50,54.50v3.4" stroke="#3f9462" stroke-width="1.0"/>
<path d="M630.85,56.20h2.6M632.15,54.50v3.4" stroke="#3f9462" stroke-width="1.0"/>
<path d="M634.50,56.20h2.6M635.80,54.50v3.4" stroke="#3f9462" stroke-width="1.0"/>
<path d="M636.32,56.20h2.6M637.62,54.50v3.4" stroke="#3f9462" stroke-width="1.0"/>
<path d="M641.79,56.20h2.6M643.09,54.50v3.4" stroke="#3f9462" stroke-width="1.0"/>
<path d="M645.44,56.20h2.6M646.74,54.50v3.4" stroke="#3f9462" stroke-width="1.0"/>
<path d="M649.09,56.20h2.6M650.39,54.50v3.4" stroke="#3f9462" stroke-width="1.0"/>
<path d="M652.74,56.20h2.6M654.04,54.50v3.4" stroke="#3f9462" stroke-width="1.0"/>
<path d="M660.03,56.20h2.6M661.33,54.50v3.4" stroke="#3f9462" stroke-width="1.0"/>
<path d="M663.68,56.20h2.6M664.98,54.50v3.4" stroke="#3f9462" stroke-width="1.0"/>
<path d="M665.50,56.20h2.6M666.80,54.50v3.4" stroke="#3f9462" stroke-width="1.0"/>
<path d="M669.15,56.20h2.6M670.45,54.50v3.4" stroke="#3f9462" stroke-width="1.0"/>
<path d="M674.62,56.20h2.6M675.92,54.50v3.4" stroke="#3f9462" stroke-width="1.0"/>
<path d="M678.27,56.20h2.6M679.57,54.50v3.4" stroke="#3f9462" stroke-width="1.0"/>
<path d="M491.70,56.20 H567.58 V70.24 H582.17 V76.14 H588.55 V131.25 H600.41 V139.12 H673.55" fill="none" stroke="#f2d9a4" stroke-width="1.0"/>
<path d="M508.09,56.20h2.6M509.39,54.50v3.4" stroke="#ecb865" stroke-width="1.0"/>
<path d="M521.41,56.20h2.6M522.71,54.50v3.4" stroke="#ecb865" stroke-width="1.0"/>
<path d="M526.88,56.20h2.6M528.18,54.50v3.4" stroke="#ecb865" stroke-width="1.0"/>
<path d="M537.82,56.20h2.6M539.12,54.50v3.4" stroke="#ecb865" stroke-width="1.0"/>
<path d="M545.12,56.20h2.6M546.42,54.50v3.4" stroke="#ecb865" stroke-width="1.0"/>
<path d="M559.71,56.20h2.6M561.01,54.50v3.4" stroke="#ecb865" stroke-width="1.0"/>
<path d="M561.54,56.20h2.6M562.84,54.50v3.4" stroke="#ecb865" stroke-width="1.0"/>
<path d="M566.28,70.24h2.6M567.58,68.54v3.4" stroke="#ecb865" stroke-width="1.0"/>
<path d="M580.87,76.14h2.6M582.17,74.44v3.4" stroke="#ecb865" stroke-width="1.0"/>
<path d="M599.84,139.12h2.6M601.14,137.42v3.4" stroke="#ecb865" stroke-width="1.0"/>
<path d="M602.58,139.12h2.6M603.88,137.42v3.4" stroke="#ecb865" stroke-width="1.0"/>
<path d="M672.25,139.12h2.6M673.55,137.42v3.4" stroke="#ecb865" stroke-width="1.0"/>
<line x1="482.40" y1="49.64" x2="482.40" y2="193.96" stroke="#555555" stroke-width="0.9" />
<line x1="482.40" y1="193.80" x2="683.22" y2="193.80" stroke="#555555" stroke-width="1.0" />
<line x1="480.40" y1="56.20" x2="482.40" y2="56.20" stroke="#555555" stroke-width="0.8" />
<text transform="translate(480.10 59.60) scale(1 1.08)" font-size="7.75" text-anchor="end" fill="#333" font-weight="normal" font-family="Liberation Sans" >1.00</text>
<line x1="480.40" y1="89.00" x2="482.40" y2="89.00" stroke="#555555" stroke-width="0.8" />
<text transform="translate(480.10 92.40) scale(1 1.08)" font-size="7.75" text-anchor="end" fill="#333" font-weight="normal" font-family="Liberation Sans" >0.75</text>
<line x1="480.40" y1="121.80" x2="482.40" y2="121.80" stroke="#555555" stroke-width="0.8" />
<text transform="translate(480.10 125.20) scale(1 1.08)" font-size="7.75" text-anchor="end" fill="#333" font-weight="normal" font-family="Liberation Sans" >0.50</text>
<line x1="480.40" y1="154.60" x2="482.40" y2="154.60" stroke="#555555" stroke-width="0.8" />
<text transform="translate(480.10 158.00) scale(1 1.08)" font-size="7.75" text-anchor="end" fill="#333" font-weight="normal" font-family="Liberation Sans" >0.25</text>
<line x1="480.40" y1="187.40" x2="482.40" y2="187.40" stroke="#555555" stroke-width="0.8" />
<text transform="translate(480.10 190.80) scale(1 1.08)" font-size="7.75" text-anchor="end" fill="#333" font-weight="normal" font-family="Liberation Sans" >0.00</text>
<line x1="491.70" y1="193.96" x2="491.70" y2="195.96" stroke="#555555" stroke-width="0.8" />
<text transform="translate(491.70 202.46) scale(1 1.08)" font-size="7.75" text-anchor="middle" fill="#333" font-weight="normal" font-family="Liberation Sans" >0</text>
<line x1="528.18" y1="193.96" x2="528.18" y2="195.96" stroke="#555555" stroke-width="0.8" />
<text transform="translate(528.18 202.46) scale(1 1.08)" font-size="7.75" text-anchor="middle" fill="#333" font-weight="normal" font-family="Liberation Sans" >2</text>
<line x1="564.66" y1="193.96" x2="564.66" y2="195.96" stroke="#555555" stroke-width="0.8" />
<text transform="translate(564.66 202.46) scale(1 1.08)" font-size="7.75" text-anchor="middle" fill="#333" font-weight="normal" font-family="Liberation Sans" >4</text>
<line x1="601.14" y1="193.96" x2="601.14" y2="195.96" stroke="#555555" stroke-width="0.8" />
<text transform="translate(601.14 202.46) scale(1 1.08)" font-size="7.75" text-anchor="middle" fill="#333" font-weight="normal" font-family="Liberation Sans" >6</text>
<line x1="637.62" y1="193.96" x2="637.62" y2="195.96" stroke="#555555" stroke-width="0.8" />
<text transform="translate(637.62 202.46) scale(1 1.08)" font-size="7.75" text-anchor="middle" fill="#333" font-weight="normal" font-family="Liberation Sans" >8</text>
<line x1="674.10" y1="193.96" x2="674.10" y2="195.96" stroke="#555555" stroke-width="0.8" />
<text transform="translate(674.10 202.46) scale(1 1.08)" font-size="7.75" text-anchor="middle" fill="#333" font-weight="normal" font-family="Liberation Sans" >10</text>
<text transform="translate(582.81 209.40) scale(1 1.08)" font-size="6.9" text-anchor="middle" fill="#111" font-weight="normal" font-family="Liberation Sans" >Years</text>
<text x="463.10" y="121.80" font-size="6.95" text-anchor="middle" fill="#222" font-weight="normal" font-family="Liberation Sans" transform="rotate(-90 463.10 121.80)">Probability of remaining free of dementia</text>
<text transform="translate(496.30 164.40) scale(1 1.08)" font-size="8.3" text-anchor="start" fill="#111" font-weight="normal" font-family="Liberation Sans" >P = 0.0419</text>
<text transform="translate(479.20 220.60) scale(1 1.08)" font-size="6.85" text-anchor="start" fill="#111" font-weight="normal" font-family="Liberation Sans" >Number at risk</text>
<line x1="478.80" y1="224.00" x2="478.80" y2="266.00" stroke="#a0a0a0" stroke-width="0.9" />
<line x1="478.80" y1="266.00" x2="682.80" y2="266.00" stroke="#777" stroke-width="0.9" />
<text transform="translate(488.40 235.70) scale(1 1.1)" font-size="8.7" text-anchor="middle" fill="#2f8655" font-weight="normal" font-family="Liberation Sans" >277</text>
<text transform="translate(525.54 235.70) scale(1 1.1)" font-size="8.7" text-anchor="middle" fill="#2f8655" font-weight="normal" font-family="Liberation Sans" >257</text>
<text transform="translate(562.68 235.70) scale(1 1.1)" font-size="8.7" text-anchor="middle" fill="#2f8655" font-weight="normal" font-family="Liberation Sans" >215</text>
<text transform="translate(599.82 235.70) scale(1 1.1)" font-size="8.7" text-anchor="middle" fill="#2f8655" font-weight="normal" font-family="Liberation Sans" >131</text>
<text transform="translate(636.96 235.70) scale(1 1.1)" font-size="8.7" text-anchor="middle" fill="#2f8655" font-weight="normal" font-family="Liberation Sans" >50</text>
<text transform="translate(674.10 235.70) scale(1 1.1)" font-size="8.7" text-anchor="middle" fill="#2f8655" font-weight="normal" font-family="Liberation Sans" >4</text>
<text transform="translate(488.40 248.90) scale(1 1.1)" font-size="8.7" text-anchor="middle" fill="#b5da9f" font-weight="normal" font-family="Liberation Sans" >277</text>
<text transform="translate(525.54 248.90) scale(1 1.1)" font-size="8.7" text-anchor="middle" fill="#b5da9f" font-weight="normal" font-family="Liberation Sans" >263</text>
<text transform="translate(562.68 248.90) scale(1 1.1)" font-size="8.7" text-anchor="middle" fill="#b5da9f" font-weight="normal" font-family="Liberation Sans" >226</text>
<text transform="translate(599.82 248.90) scale(1 1.1)" font-size="8.7" text-anchor="middle" fill="#b5da9f" font-weight="normal" font-family="Liberation Sans" >127</text>
<text transform="translate(636.96 248.90) scale(1 1.1)" font-size="8.7" text-anchor="middle" fill="#b5da9f" font-weight="normal" font-family="Liberation Sans" >73</text>
<text transform="translate(674.10 248.90) scale(1 1.1)" font-size="8.7" text-anchor="middle" fill="#b5da9f" font-weight="normal" font-family="Liberation Sans" >16</text>
<text transform="translate(488.40 262.10) scale(1 1.1)" font-size="8.7" text-anchor="middle" fill="#efb362" font-weight="normal" font-family="Liberation Sans" >265</text>
<text transform="translate(525.54 262.10) scale(1 1.1)" font-size="8.7" text-anchor="middle" fill="#efb362" font-weight="normal" font-family="Liberation Sans" >234</text>
<text transform="translate(562.68 262.10) scale(1 1.1)" font-size="8.7" text-anchor="middle" fill="#efb362" font-weight="normal" font-family="Liberation Sans" >147</text>
<text transform="translate(599.82 262.10) scale(1 1.1)" font-size="8.7" text-anchor="middle" fill="#efb362" font-weight="normal" font-family="Liberation Sans" >28</text>
<text transform="translate(636.96 262.10) scale(1 1.1)" font-size="8.7" text-anchor="middle" fill="#efb362" font-weight="normal" font-family="Liberation Sans" >8</text>
<text transform="translate(674.10 262.10) scale(1 1.1)" font-size="8.7" text-anchor="middle" fill="#efb362" font-weight="normal" font-family="Liberation Sans" >0</text>
<text x="7.80" y="296.30" font-size="14.2" text-anchor="start" fill="#000" font-weight="bold" font-family="Liberation Sans" >b</text>
<text x="342.40" y="297.90" font-size="12.05" text-anchor="middle" fill="#222222" font-weight="normal" font-family="Liberation Sans" >P-values obtained from pairwise comparisons</text>
<text x="77.10" y="320.00" font-size="10.95" text-anchor="start" fill="#222222" font-weight="normal" font-family="Liberation Sans" >Very mild dementia</text>
<rect x="95.10" y="330.40" width="33.00" height="17.90" fill="#28874e" />
<text x="111.60" y="345.80" font-size="10.6" text-anchor="middle" fill="#fff" font-weight="bold" font-family="Liberation Serif" >0</text>
<rect x="128.10" y="330.40" width="33.00" height="17.90" fill="#c8dfb0" />
<text x="144.60" y="345.80" font-size="10.6" text-anchor="middle" fill="#111" font-weight="bold" font-family="Liberation Serif" >I</text>
<rect x="161.10" y="330.40" width="33.30" height="17.90" fill="#f5b052" />
<text x="177.75" y="345.80" font-size="10.6" text-anchor="middle" fill="#111" font-weight="bold" font-family="Liberation Serif" >II</text>
<rect x="62.00" y="348.80" width="33.10" height="15.00" fill="#28874e" />
<text x="78.55" y="362.00" font-size="9.6" text-anchor="middle" fill="#fff" font-weight="bold" font-family="Liberation Serif" >0</text>
<rect x="62.00" y="363.80" width="33.10" height="15.20" fill="#c8dfb0" />
<text x="78.55" y="377.20" font-size="9.6" text-anchor="middle" fill="#fff" font-weight="bold" font-family="Liberation Serif" >I</text>
<rect x="62.00" y="379.00" width="33.10" height="15.30" fill="#f5b052" />
<text x="78.55" y="391.60" font-size="9.6" text-anchor="middle" fill="#111" font-weight="bold" font-family="Liberation Serif" >II</text>
<text x="144.60" y="361.90" font-size="9.35" text-anchor="middle" fill="#222" font-weight="normal" font-family="Liberation Serif" >0.0001</text>
<text x="177.75" y="361.90" font-size="9.35" text-anchor="middle" fill="#222" font-weight="normal" font-family="Liberation Serif" >&lt;0.0001</text>
<text x="177.75" y="377.00" font-size="9.35" text-anchor="middle" fill="#222" font-weight="normal" font-family="Liberation Serif" >0.0103</text>
<line x1="62.00" y1="330.40" x2="194.40" y2="330.40" stroke="#444" stroke-width="1.0" />
<line x1="62.00" y1="348.30" x2="194.40" y2="348.30" stroke="#222" stroke-width="1.0" />
<line x1="62.00" y1="394.60" x2="194.40" y2="394.60" stroke="#3a3a3a" stroke-width="1.2" />
<text x="309.60" y="320.00" font-size="10.95" text-anchor="start" fill="#222222" font-weight="normal" font-family="Liberation Sans" >Mild dementia</text>
<rect x="322.20" y="329.10" width="33.30" height="19.00" fill="#28874e" />
<text x="338.85" y="345.40" font-size="10.6" text-anchor="middle" fill="#fff" font-weight="bold" font-family="Liberation Serif" >0</text>
<rect x="355.50" y="329.10" width="33.30" height="19.00" fill="#c8dfb0" />
<text x="372.15" y="345.40" font-size="10.6" text-anchor="middle" fill="#111" font-weight="bold" font-family="Liberation Serif" >I</text>
<rect x="388.80" y="329.10" width="32.70" height="19.00" fill="#f5b052" />
<text x="405.15" y="345.40" font-size="10.6" text-anchor="middle" fill="#111" font-weight="bold" font-family="Liberation Serif" >II</text>
<rect x="289.20" y="348.60" width="33.00" height="17.10" fill="#28874e" />
<text x="305.70" y="362.80" font-size="9.6" text-anchor="middle" fill="#fff" font-weight="bold" font-family="Liberation Serif" >0</text>
<rect x="289.20" y="365.70" width="33.00" height="18.20" fill="#c8dfb0" />
<text x="305.70" y="380.50" font-size="9.6" text-anchor="middle" fill="#fff" font-weight="bold" font-family="Liberation Serif" >I</text>
<rect x="289.20" y="383.90" width="33.00" height="15.60" fill="#f5b052" />
<text x="305.70" y="396.60" font-size="9.6" text-anchor="middle" fill="#111" font-weight="bold" font-family="Liberation Serif" >II</text>
<text x="372.15" y="362.70" font-size="9.35" text-anchor="middle" fill="#222" font-weight="normal" font-family="Liberation Serif" >&lt;0.0001</text>
<text x="405.15" y="362.70" font-size="9.35" text-anchor="middle" fill="#222" font-weight="normal" font-family="Liberation Serif" >&lt;0.0001</text>
<text x="405.15" y="380.40" font-size="9.35" text-anchor="middle" fill="#222" font-weight="normal" font-family="Liberation Serif" >&lt;0.0001</text>
<line x1="289.20" y1="329.10" x2="421.50" y2="329.10" stroke="#444" stroke-width="1.0" />
<line x1="289.20" y1="348.10" x2="421.50" y2="348.10" stroke="#222" stroke-width="1.0" />
<line x1="289.20" y1="399.80" x2="421.50" y2="399.80" stroke="#3a3a3a" stroke-width="1.2" />
<text x="527.10" y="319.70" font-size="10.95" text-anchor="start" fill="#222222" font-weight="normal" font-family="Liberation Sans" >Moderate dementia</text>
<rect x="553.10" y="328.90" width="33.10" height="18.60" fill="#28874e" />
<text x="569.65" y="345.00" font-size="10.6" text-anchor="middle" fill="#fff" font-weight="bold" font-family="Liberation Serif" >0</text>
<rect x="586.20" y="328.90" width="33.30" height="18.60" fill="#c8dfb0" />
<text x="602.85" y="345.00" font-size="10.6" text-anchor="middle" fill="#111" font-weight="bold" font-family="Liberation Serif" >I</text>
<rect x="619.50" y="328.90" width="33.30" height="18.60" fill="#f5b052" />
<text x="636.15" y="345.00" font-size="10.6" text-anchor="middle" fill="#111" font-weight="bold" font-family="Liberation Serif" >II</text>
<rect x="519.90" y="348.00" width="33.20" height="17.70" fill="#28874e" />
<text x="536.50" y="362.50" font-size="9.6" text-anchor="middle" fill="#fff" font-weight="bold" font-family="Liberation Serif" >0</text>
<rect x="519.90" y="365.70" width="33.20" height="18.20" fill="#c8dfb0" />
<text x="536.50" y="380.30" font-size="9.6" text-anchor="middle" fill="#fff" font-weight="bold" font-family="Liberation Serif" >I</text>
<rect x="519.90" y="383.90" width="33.20" height="15.40" fill="#f5b052" />
<text x="536.50" y="396.40" font-size="9.6" text-anchor="middle" fill="#111" font-weight="bold" font-family="Liberation Serif" >II</text>
<text x="602.85" y="362.30" font-size="9.35" text-anchor="middle" fill="#222" font-weight="normal" font-family="Liberation Serif" >0.0219</text>
<text x="636.15" y="362.30" font-size="9.35" text-anchor="middle" fill="#222" font-weight="normal" font-family="Liberation Serif" >0.0001</text>
<text x="636.15" y="380.00" font-size="9.35" text-anchor="middle" fill="#222" font-weight="normal" font-family="Liberation Serif" >0.0049</text>
<line x1="519.90" y1="328.90" x2="652.80" y2="328.90" stroke="#444" stroke-width="1.0" />
<line x1="519.90" y1="347.50" x2="652.80" y2="347.50" stroke="#222" stroke-width="1.0" />
<line x1="519.90" y1="399.60" x2="652.80" y2="399.60" stroke="#3a3a3a" stroke-width="1.2" />
<text x="8.40" y="449.30" font-size="14.2" text-anchor="start" fill="#000" font-weight="bold" font-family="Liberation Sans" >c</text>
<text x="187.60" y="449.90" font-size="12.12" text-anchor="start" fill="#222222" font-weight="normal" font-family="Liberation Sans" >Longitudinal cognitive trajectories for CDR<tspan dx="1.1">-</tspan>SB and MMSE</text>
<rect x="208.00" y="463.90" width="9.20" height="9.40" fill="#dbeadf" />
<line x1="208.60" y1="468.50" x2="216.60" y2="468.50" stroke="#2b8650" stroke-width="1.2" />
<circle cx="212.60" cy="468.50" r="1.5" fill="#2b8650" stroke="#555" stroke-width="0.4"/>
<text transform="translate(222.90 471.40) scale(1 1.08)" font-size="7.7" text-anchor="middle" fill="#222" font-weight="normal" font-family="Liberation Sans" >0</text>
<rect x="229.00" y="463.90" width="9.20" height="9.40" fill="#e6f3de" />
<line x1="229.60" y1="468.50" x2="237.60" y2="468.50" stroke="#8fcf7e" stroke-width="1.2" />
<circle cx="233.60" cy="468.50" r="1.5" fill="#8fcf7e" stroke="#555" stroke-width="0.4"/>
<text transform="translate(242.90 471.40) scale(1 1.08)" font-size="7.7" text-anchor="middle" fill="#222" font-weight="normal" font-family="Liberation Sans" >I</text>
<rect x="247.10" y="463.90" width="9.20" height="9.40" fill="#fcecd9" />
<line x1="247.70" y1="468.50" x2="255.70" y2="468.50" stroke="#e6a24a" stroke-width="1.2" />
<circle cx="251.70" cy="468.50" r="1.5" fill="#e6a24a" stroke="#555" stroke-width="0.4"/>
<text transform="translate(262.70 471.40) scale(1 1.08)" font-size="7.7" text-anchor="middle" fill="#222" font-weight="normal" font-family="Liberation Sans" >II</text>
<rect x="452.10" y="463.90" width="9.20" height="9.40" fill="#dbeadf" />
<line x1="452.70" y1="468.50" x2="460.70" y2="468.50" stroke="#2b8650" stroke-width="1.2" />
<circle cx="456.70" cy="468.50" r="1.5" fill="#2b8650" stroke="#555" stroke-width="0.4"/>
<text transform="translate(467.00 471.40) scale(1 1.08)" font-size="7.7" text-anchor="middle" fill="#222" font-weight="normal" font-family="Liberation Sans" >0</text>
<rect x="473.10" y="463.90" width="9.20" height="9.40" fill="#e6f3de" />
<line x1="473.70" y1="468.50" x2="481.70" y2="468.50" stroke="#8fcf7e" stroke-width="1.2" />
<circle cx="477.70" cy="468.50" r="1.5" fill="#8fcf7e" stroke="#555" stroke-width="0.4"/>
<text transform="translate(487.00 471.40) scale(1 1.08)" font-size="7.7" text-anchor="middle" fill="#222" font-weight="normal" font-family="Liberation Sans" >I</text>
<rect x="491.20" y="463.90" width="9.20" height="9.40" fill="#fcecd9" />
<line x1="491.80" y1="468.50" x2="499.80" y2="468.50" stroke="#e6a24a" stroke-width="1.2" />
<circle cx="495.80" cy="468.50" r="1.5" fill="#e6a24a" stroke="#555" stroke-width="0.4"/>
<text transform="translate(506.80 471.40) scale(1 1.08)" font-size="7.7" text-anchor="middle" fill="#222" font-weight="normal" font-family="Liberation Sans" >II</text>
<rect x="146.50" y="483.40" width="176.90" height="161.00" fill="#fff" />
<line x1="146.50" y1="622.52" x2="323.40" y2="622.52" stroke="#f2f2f2" stroke-width="0.6" />
<line x1="146.50" y1="600.50" x2="323.40" y2="600.50" stroke="#f2f2f2" stroke-width="0.6" />
<line x1="146.50" y1="568.69" x2="323.40" y2="568.69" stroke="#f2f2f2" stroke-width="0.6" />
<line x1="146.50" y1="517.31" x2="323.40" y2="517.31" stroke="#f2f2f2" stroke-width="0.6" />
<line x1="146.50" y1="637.20" x2="323.40" y2="637.20" stroke="#ebebeb" stroke-width="0.7" />
<line x1="146.50" y1="607.84" x2="323.40" y2="607.84" stroke="#ebebeb" stroke-width="0.7" />
<line x1="146.50" y1="593.16" x2="323.40" y2="593.16" stroke="#ebebeb" stroke-width="0.7" />
<line x1="146.50" y1="544.23" x2="323.40" y2="544.23" stroke="#ebebeb" stroke-width="0.7" />
<line x1="146.50" y1="490.40" x2="323.40" y2="490.40" stroke="#ebebeb" stroke-width="0.7" />
<line x1="163.62" y1="483.40" x2="163.62" y2="644.40" stroke="#ebebeb" stroke-width="0.7" />
<line x1="192.15" y1="483.40" x2="192.15" y2="644.40" stroke="#ebebeb" stroke-width="0.7" />
<line x1="220.68" y1="483.40" x2="220.68" y2="644.40" stroke="#ebebeb" stroke-width="0.7" />
<line x1="249.22" y1="483.40" x2="249.22" y2="644.40" stroke="#ebebeb" stroke-width="0.7" />
<line x1="277.75" y1="483.40" x2="277.75" y2="644.40" stroke="#ebebeb" stroke-width="0.7" />
<line x1="306.28" y1="483.40" x2="306.28" y2="644.40" stroke="#ebebeb" stroke-width="0.7" />
<polygon points="163.62,609.11 192.15,607.25 220.68,597.27 249.22,593.36 277.75,570.45 306.28,571.04 306.28,613.61 277.75,599.91 249.22,612.34 220.68,613.03 192.15,618.80 163.62,617.82" fill="#fbd9b0" fill-opacity="0.45"/>
<polygon points="163.62,623.79 192.15,622.62 220.68,622.62 249.22,620.76 277.75,618.21 306.28,611.56 306.28,621.35 277.75,623.50 249.22,625.26 220.68,626.53 192.15,626.53 163.62,627.71" fill="#cdeabc" fill-opacity="0.4"/>
<polygon points="163.62,634.46 192.15,633.48 220.68,631.72 249.22,632.11 277.75,631.72 306.28,630.94 306.28,634.66 277.75,634.85 249.22,635.05 220.68,634.46 192.15,635.83 163.62,636.42" fill="#b9dcc2" fill-opacity="0.45"/>
<path d="M163.62,613.61 L192.15,613.32 L220.68,605.20 L249.22,603.14 L277.75,584.45 L306.28,592.77" fill="none" stroke="#efb25e" stroke-width="1.1"/>
<circle cx="163.62" cy="613.61" r="1.7" fill="#f0a848" stroke="#4a4a4a" stroke-width="0.5"/>
<circle cx="192.15" cy="613.32" r="1.7" fill="#f0a848" stroke="#4a4a4a" stroke-width="0.5"/>
<circle cx="220.68" cy="605.20" r="1.7" fill="#f0a848" stroke="#4a4a4a" stroke-width="0.5"/>
<circle cx="249.22" cy="603.14" r="1.7" fill="#f0a848" stroke="#4a4a4a" stroke-width="0.5"/>
<circle cx="277.75" cy="584.45" r="1.7" fill="#f0a848" stroke="#4a4a4a" stroke-width="0.5"/>
<circle cx="306.28" cy="592.77" r="1.7" fill="#f0a848" stroke="#4a4a4a" stroke-width="0.5"/>
<path d="M163.62,625.75 L192.15,624.58 L220.68,624.58 L249.22,623.01 L277.75,620.86 L306.28,616.45" fill="none" stroke="#98d283" stroke-width="1.1"/>
<circle cx="163.62" cy="625.75" r="1.7" fill="#a6d98f" stroke="#4a4a4a" stroke-width="0.5"/>
<circle cx="192.15" cy="624.58" r="1.7" fill="#a6d98f" stroke="#4a4a4a" stroke-width="0.5"/>
<circle cx="220.68" cy="624.58" r="1.7" fill="#a6d98f" stroke="#4a4a4a" stroke-width="0.5"/>
<circle cx="249.22" cy="623.01" r="1.7" fill="#a6d98f" stroke="#4a4a4a" stroke-width="0.5"/>
<circle cx="277.75" cy="620.86" r="1.7" fill="#a6d98f" stroke="#4a4a4a" stroke-width="0.5"/>
<circle cx="306.28" cy="616.45" r="1.7" fill="#a6d98f" stroke="#4a4a4a" stroke-width="0.5"/>
<path d="M163.62,635.44 L192.15,634.66 L220.68,633.29 L249.22,633.77 L277.75,633.48 L306.28,632.99" fill="none" stroke="#2f8552" stroke-width="1.1"/>
<circle cx="163.62" cy="635.44" r="1.7" fill="#22773f" stroke="#4a4a4a" stroke-width="0.5"/>
<circle cx="192.15" cy="634.66" r="1.7" fill="#22773f" stroke="#4a4a4a" stroke-width="0.5"/>
<circle cx="220.68" cy="633.29" r="1.7" fill="#22773f" stroke="#4a4a4a" stroke-width="0.5"/>
<circle cx="249.22" cy="633.77" r="1.7" fill="#22773f" stroke="#4a4a4a" stroke-width="0.5"/>
<circle cx="277.75" cy="633.48" r="1.7" fill="#22773f" stroke="#4a4a4a" stroke-width="0.5"/>
<circle cx="306.28" cy="632.99" r="1.7" fill="#22773f" stroke="#4a4a4a" stroke-width="0.5"/>
<line x1="146.50" y1="483.40" x2="323.40" y2="483.40" stroke="#c4c4c4" stroke-width="1.0" />
<line x1="323.40" y1="483.40" x2="323.40" y2="644.40" stroke="#9a9a9a" stroke-width="1.0" />
<line x1="146.50" y1="644.40" x2="323.40" y2="644.40" stroke="#8e8e8e" stroke-width="1.0" />
<line x1="146.50" y1="483.40" x2="146.50" y2="644.40" stroke="#9a9a9a" stroke-width="1.0" />
<line x1="144.50" y1="637.20" x2="146.50" y2="637.20" stroke="#555" stroke-width="0.8" />
<text transform="translate(143.30 640.20) scale(1 1.1)" font-size="7.9" text-anchor="end" fill="#1e1e1e" font-weight="normal" font-family="Liberation Sans" >0.0</text>
<line x1="144.50" y1="607.84" x2="146.50" y2="607.84" stroke="#555" stroke-width="0.8" />
<text transform="translate(143.30 610.84) scale(1 1.1)" font-size="7.9" text-anchor="end" fill="#1e1e1e" font-weight="normal" font-family="Liberation Sans" >3.0</text>
<line x1="144.50" y1="593.16" x2="146.50" y2="593.16" stroke="#555" stroke-width="0.8" />
<text transform="translate(143.30 596.16) scale(1 1.1)" font-size="7.9" text-anchor="end" fill="#1e1e1e" font-weight="normal" font-family="Liberation Sans" >4.5</text>
<line x1="144.50" y1="544.23" x2="146.50" y2="544.23" stroke="#555" stroke-width="0.8" />
<text transform="translate(143.30 547.23) scale(1 1.1)" font-size="7.9" text-anchor="end" fill="#1e1e1e" font-weight="normal" font-family="Liberation Sans" >9.5</text>
<line x1="144.50" y1="490.40" x2="146.50" y2="490.40" stroke="#555" stroke-width="0.8" />
<text transform="translate(143.30 493.40) scale(1 1.1)" font-size="7.9" text-anchor="end" fill="#1e1e1e" font-weight="normal" font-family="Liberation Sans" >15.0</text>
<line x1="163.62" y1="644.40" x2="163.62" y2="646.40" stroke="#555" stroke-width="0.8" />
<text transform="translate(163.62 654.30) scale(1 1.1)" font-size="8.0" text-anchor="middle" fill="#1e1e1e" font-weight="normal" font-family="Liberation Sans" >&lt; 6m</text>
<line x1="192.15" y1="644.40" x2="192.15" y2="646.40" stroke="#555" stroke-width="0.8" />
<text transform="translate(192.15 654.30) scale(1 1.1)" font-size="8.0" text-anchor="middle" fill="#1e1e1e" font-weight="normal" font-family="Liberation Sans" >1y</text>
<line x1="220.68" y1="644.40" x2="220.68" y2="646.40" stroke="#555" stroke-width="0.8" />
<text transform="translate(220.68 654.30) scale(1 1.1)" font-size="8.0" text-anchor="middle" fill="#1e1e1e" font-weight="normal" font-family="Liberation Sans" >2y</text>
<line x1="249.22" y1="644.40" x2="249.22" y2="646.40" stroke="#555" stroke-width="0.8" />
<text transform="translate(249.22 654.30) scale(1 1.1)" font-size="8.0" text-anchor="middle" fill="#1e1e1e" font-weight="normal" font-family="Liberation Sans" >3y</text>
<line x1="277.75" y1="644.40" x2="277.75" y2="646.40" stroke="#555" stroke-width="0.8" />
<text transform="translate(277.75 654.30) scale(1 1.1)" font-size="8.0" text-anchor="middle" fill="#1e1e1e" font-weight="normal" font-family="Liberation Sans" >4y</text>
<line x1="306.28" y1="644.40" x2="306.28" y2="646.40" stroke="#555" stroke-width="0.8" />
<text transform="translate(306.28 654.30) scale(1 1.1)" font-size="8.0" text-anchor="middle" fill="#1e1e1e" font-weight="normal" font-family="Liberation Sans" >&gt;=5 y</text>
<text transform="translate(234.90 663.00) scale(1 1.08)" font-size="8.1" text-anchor="middle" fill="#222" font-weight="normal" font-family="Liberation Sans" >Follow-up duration</text>
<text x="124.90" y="563.90" font-size="8.1" text-anchor="middle" fill="#222" font-weight="normal" font-family="Liberation Sans" transform="rotate(-90 124.90 563.90)">LSmean of CDR-sb</text>
<rect x="386.40" y="483.30" width="184.10" height="161.00" fill="#fff" />
<line x1="386.40" y1="612.73" x2="570.50" y2="612.73" stroke="#f2f2f2" stroke-width="0.6" />
<line x1="386.40" y1="563.80" x2="570.50" y2="563.80" stroke="#f2f2f2" stroke-width="0.6" />
<line x1="386.40" y1="514.87" x2="570.50" y2="514.87" stroke="#f2f2f2" stroke-width="0.6" />
<line x1="386.40" y1="637.20" x2="570.50" y2="637.20" stroke="#ebebeb" stroke-width="0.7" />
<line x1="386.40" y1="588.27" x2="570.50" y2="588.27" stroke="#ebebeb" stroke-width="0.7" />
<line x1="386.40" y1="539.33" x2="570.50" y2="539.33" stroke="#ebebeb" stroke-width="0.7" />
<line x1="386.40" y1="490.40" x2="570.50" y2="490.40" stroke="#ebebeb" stroke-width="0.7" />
<line x1="404.22" y1="483.30" x2="404.22" y2="644.30" stroke="#ebebeb" stroke-width="0.7" />
<line x1="433.91" y1="483.30" x2="433.91" y2="644.30" stroke="#ebebeb" stroke-width="0.7" />
<line x1="463.60" y1="483.30" x2="463.60" y2="644.30" stroke="#ebebeb" stroke-width="0.7" />
<line x1="493.30" y1="483.30" x2="493.30" y2="644.30" stroke="#ebebeb" stroke-width="0.7" />
<line x1="522.99" y1="483.30" x2="522.99" y2="644.30" stroke="#ebebeb" stroke-width="0.7" />
<line x1="552.68" y1="483.30" x2="552.68" y2="644.30" stroke="#ebebeb" stroke-width="0.7" />
<polygon points="404.22,499.60 433.91,500.19 463.60,507.04 493.30,510.46 522.99,520.74 552.68,514.87 552.68,548.48 522.99,544.91 493.30,528.81 463.60,515.36 433.91,510.07 404.22,508.41" fill="#fbd9b0" fill-opacity="0.45"/>
<polygon points="404.22,496.27 433.91,497.01 463.60,497.01 493.30,498.96 522.99,499.21 552.68,502.39 552.68,506.55 522.99,503.37 493.30,502.63 463.60,500.43 433.91,500.43 404.22,499.70" fill="#cdeabc" fill-opacity="0.4"/>
<polygon points="404.22,493.58 433.91,493.83 463.60,495.78 493.30,493.83 522.99,496.03 552.68,494.31 552.68,497.01 522.99,498.72 493.30,496.52 463.60,498.72 433.91,496.52 404.22,496.27" fill="#b9dcc2" fill-opacity="0.45"/>
<path d="M404.22,504.30 L433.91,505.37 L463.60,510.90 L493.30,520.00 L522.99,533.22 L552.68,531.70" fill="none" stroke="#efb25e" stroke-width="1.0"/>
<circle cx="404.22" cy="504.30" r="1.7" fill="#f0a848" stroke="#4a4a4a" stroke-width="0.5"/>
<circle cx="433.91" cy="505.37" r="1.7" fill="#f0a848" stroke="#4a4a4a" stroke-width="0.5"/>
<circle cx="463.60" cy="510.90" r="1.7" fill="#f0a848" stroke="#4a4a4a" stroke-width="0.5"/>
<circle cx="493.30" cy="520.00" r="1.7" fill="#f0a848" stroke="#4a4a4a" stroke-width="0.5"/>
<circle cx="522.99" cy="533.22" r="1.7" fill="#f0a848" stroke="#4a4a4a" stroke-width="0.5"/>
<circle cx="552.68" cy="531.70" r="1.7" fill="#f0a848" stroke="#4a4a4a" stroke-width="0.5"/>
<path d="M404.22,498.08 L433.91,498.77 L463.60,498.77 L493.30,500.77 L522.99,501.41 L552.68,504.30" fill="none" stroke="#98d283" stroke-width="1.0"/>
<circle cx="404.22" cy="498.08" r="1.7" fill="#a6d98f" stroke="#4a4a4a" stroke-width="0.5"/>
<circle cx="433.91" cy="498.77" r="1.7" fill="#a6d98f" stroke="#4a4a4a" stroke-width="0.5"/>
<circle cx="463.60" cy="498.77" r="1.7" fill="#a6d98f" stroke="#4a4a4a" stroke-width="0.5"/>
<circle cx="493.30" cy="500.77" r="1.7" fill="#a6d98f" stroke="#4a4a4a" stroke-width="0.5"/>
<circle cx="522.99" cy="501.41" r="1.7" fill="#a6d98f" stroke="#4a4a4a" stroke-width="0.5"/>
<circle cx="552.68" cy="504.30" r="1.7" fill="#a6d98f" stroke="#4a4a4a" stroke-width="0.5"/>
<path d="M404.22,494.90 L433.91,495.29 L463.60,497.30 L493.30,495.20 L522.99,497.40 L552.68,495.68" fill="none" stroke="#2f8552" stroke-width="1.1"/>
<circle cx="404.22" cy="494.90" r="1.7" fill="#22773f" stroke="#4a4a4a" stroke-width="0.5"/>
<circle cx="433.91" cy="495.29" r="1.7" fill="#22773f" stroke="#4a4a4a" stroke-width="0.5"/>
<circle cx="463.60" cy="497.30" r="1.7" fill="#22773f" stroke="#4a4a4a" stroke-width="0.5"/>
<circle cx="493.30" cy="495.20" r="1.7" fill="#22773f" stroke="#4a4a4a" stroke-width="0.5"/>
<circle cx="522.99" cy="497.40" r="1.7" fill="#22773f" stroke="#4a4a4a" stroke-width="0.5"/>
<circle cx="552.68" cy="495.68" r="1.7" fill="#22773f" stroke="#4a4a4a" stroke-width="0.5"/>
<line x1="386.40" y1="483.30" x2="570.50" y2="483.30" stroke="#c4c4c4" stroke-width="1.0" />
<line x1="570.50" y1="483.30" x2="570.50" y2="644.30" stroke="#9a9a9a" stroke-width="1.0" />
<line x1="386.40" y1="644.30" x2="570.50" y2="644.30" stroke="#8e8e8e" stroke-width="1.0" />
<line x1="386.40" y1="483.30" x2="386.40" y2="644.30" stroke="#c0c0c0" stroke-width="1.0" />
<line x1="384.40" y1="637.20" x2="386.40" y2="637.20" stroke="#555" stroke-width="0.8" />
<text transform="translate(383.20 640.20) scale(1 1.1)" font-size="7.9" text-anchor="end" fill="#1e1e1e" font-weight="normal" font-family="Liberation Sans" >0</text>
<line x1="384.40" y1="588.27" x2="386.40" y2="588.27" stroke="#555" stroke-width="0.8" />
<text transform="translate(383.20 591.27) scale(1 1.1)" font-size="7.9" text-anchor="end" fill="#1e1e1e" font-weight="normal" font-family="Liberation Sans" >10</text>
<line x1="384.40" y1="539.33" x2="386.40" y2="539.33" stroke="#555" stroke-width="0.8" />
<text transform="translate(383.20 542.33) scale(1 1.1)" font-size="7.9" text-anchor="end" fill="#1e1e1e" font-weight="normal" font-family="Liberation Sans" >20</text>
<line x1="384.40" y1="490.40" x2="386.40" y2="490.40" stroke="#555" stroke-width="0.8" />
<text transform="translate(383.20 493.40) scale(1 1.1)" font-size="7.9" text-anchor="end" fill="#1e1e1e" font-weight="normal" font-family="Liberation Sans" >30</text>
<line x1="404.22" y1="644.30" x2="404.22" y2="646.30" stroke="#555" stroke-width="0.8" />
<text transform="translate(404.22 654.30) scale(1 1.1)" font-size="8.0" text-anchor="middle" fill="#1e1e1e" font-weight="normal" font-family="Liberation Sans" >&lt; 6m</text>
<line x1="433.91" y1="644.30" x2="433.91" y2="646.30" stroke="#555" stroke-width="0.8" />
<text transform="translate(433.91 654.30) scale(1 1.1)" font-size="8.0" text-anchor="middle" fill="#1e1e1e" font-weight="normal" font-family="Liberation Sans" >1y</text>
<line x1="463.60" y1="644.30" x2="463.60" y2="646.30" stroke="#555" stroke-width="0.8" />
<text transform="translate(463.60 654.30) scale(1 1.1)" font-size="8.0" text-anchor="middle" fill="#1e1e1e" font-weight="normal" font-family="Liberation Sans" >2y</text>
<line x1="493.30" y1="644.30" x2="493.30" y2="646.30" stroke="#555" stroke-width="0.8" />
<text transform="translate(493.30 654.30) scale(1 1.1)" font-size="8.0" text-anchor="middle" fill="#1e1e1e" font-weight="normal" font-family="Liberation Sans" >3y</text>
<line x1="522.99" y1="644.30" x2="522.99" y2="646.30" stroke="#555" stroke-width="0.8" />
<text transform="translate(522.99 654.30) scale(1 1.1)" font-size="8.0" text-anchor="middle" fill="#1e1e1e" font-weight="normal" font-family="Liberation Sans" >4y</text>
<line x1="552.68" y1="644.30" x2="552.68" y2="646.30" stroke="#555" stroke-width="0.8" />
<text transform="translate(552.68 654.30) scale(1 1.1)" font-size="8.0" text-anchor="middle" fill="#1e1e1e" font-weight="normal" font-family="Liberation Sans" >&gt;= 5y</text>
<text transform="translate(478.40 663.00) scale(1 1.08)" font-size="8.1" text-anchor="middle" fill="#222" font-weight="normal" font-family="Liberation Sans" >Follow-up duration</text>
<text x="372.20" y="563.80" font-size="8.1" text-anchor="middle" fill="#222" font-weight="normal" font-family="Liberation Sans" transform="rotate(-90 372.20 563.80)">LSmean of MMSE</text>
</svg></body></html>
